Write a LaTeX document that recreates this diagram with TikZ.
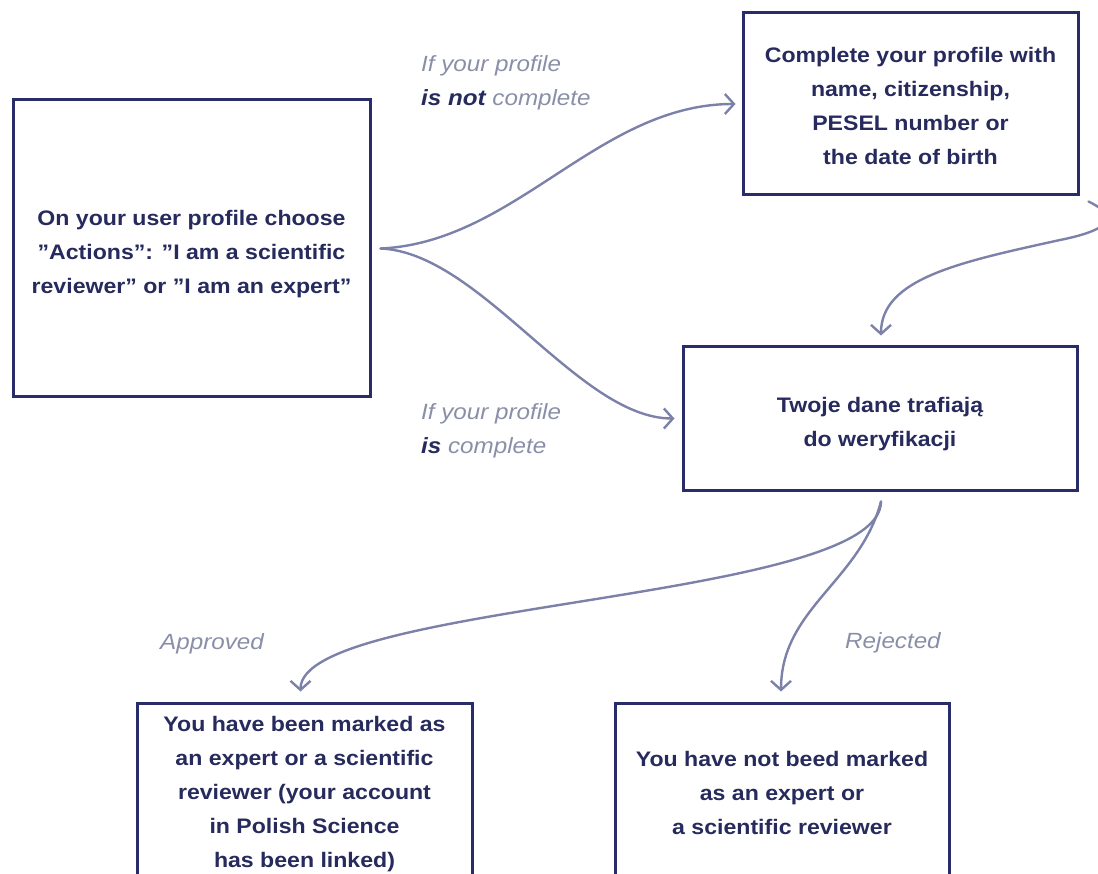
\documentclass[tikz,border=0pt]{standalone}
\usepackage{fontspec}
\setmainfont[FakeStretch=1.1]{Liberation Sans}
\usetikzlibrary{arrows.meta,calc}
\definecolor{navy}{HTML}{282C68}
\definecolor{inknavy}{HTML}{262A5C}
\definecolor{flow}{HTML}{7C81A9}
\definecolor{notegrey}{HTML}{8A8FA8}
\begin{document}
\begin{tikzpicture}[x=1pt,y=-1pt,
  box/.style={draw=navy, line width=3pt, rectangle, inner sep=0pt},
  boxtext/.style={inner sep=0pt, align=center, text=inknavy,
    font=\fontsize{21}{34}\selectfont\bfseries},
  flowline/.style={draw=flow, line width=2.4pt, line cap=round,
    -{Straight Barb[length=9pt,width=20pt]}},
  note/.style={text=notegrey, anchor=west, align=left, inner sep=0pt,
    font=\fontsize{22}{34}\selectfont\itshape}]
\useasboundingbox (0,0) rectangle (1098,874);
\clip (0,0) rectangle (1098,874);

% process boxes
\node[box, minimum width=357pt, minimum height=297pt] (act) at (191.5,248.5) {};
\node[box, minimum width=335pt, minimum height=182pt] (complete) at (910.5,104) {};
\node[box, minimum width=394pt, minimum height=143pt] (verify) at (880,418.5) {};
\node[box, minimum width=335pt, minimum height=182pt] (yes) at (304.5,794) {};
\node[box, minimum width=334pt, minimum height=182pt] (no) at (782,794) {};

% box captions
\node[boxtext] (actText) at ($(act.center)+(0,6)$)
  {On your user profile choose\\ ”Actions”: ”I am a scientific\\ reviewer” or ”I am an expert”};
\node[boxtext] (completeText) at ($(complete.center)+(0,1.5)$)
  {Complete your profile with\\ name, citizenship,\\ PESEL number or\\ the date of birth};
\node[boxtext] (verifyText) at ($(verify.center)+(0,6)$)
  {Twoje dane trafiają\\ do weryfikacji};
\node[boxtext] (yesText) at (yes.center)
  {You have been marked as\\ an expert or a scientific\\ reviewer (your account\\ in Polish Science\\ has been linked)};
\node[boxtext] (noText) at ($(no.center)+(0,-1.5)$)
  {You have not beed marked\\ as an expert or\\ a scientific reviewer};

% branch labels
\node[note] (lnot) at (421,83) {If your profile\\ {\bfseries\color{inknavy}is not} complete};
\node[note] (lis) at (421,431) {If your profile\\ {\bfseries\color{inknavy}is} complete};
\node[note] (lok) at (160,644) {Approved};
\node[note] (lrej) at (845,643) {Rejected};

% connectors
\coordinate (fork) at ($(act.east)+(9,0)$);
\draw[flowline] (fork) .. controls +(135,-6) and +(-137,0) .. ($(complete.west)+(-6,0)$);
\draw[flowline] (fork) .. controls +(100,4) and +(-96,0) .. ($(verify.west)+(-7,0)$);

\coordinate (loop) at (1060,240);
\draw[flowline] ($(complete.south east)+(9,5)$) .. controls +(25,12) and +(60,-12) .. (loop)
  .. controls +(-100,22) and +(0,-57) .. ($(verify.north)+(1,-10)$);

\coordinate (split) at ($(verify.south)+(1,10)$);
\draw[flowline] (split) .. controls +(0,100) and +(0,-90) .. ($(yes.north)+(-4,-10)$);
\draw[flowline] (split) .. controls +(-21,80) and +(0,-83) .. ($(no.north)+(-1,-10)$);
\end{tikzpicture}
\end{document}
